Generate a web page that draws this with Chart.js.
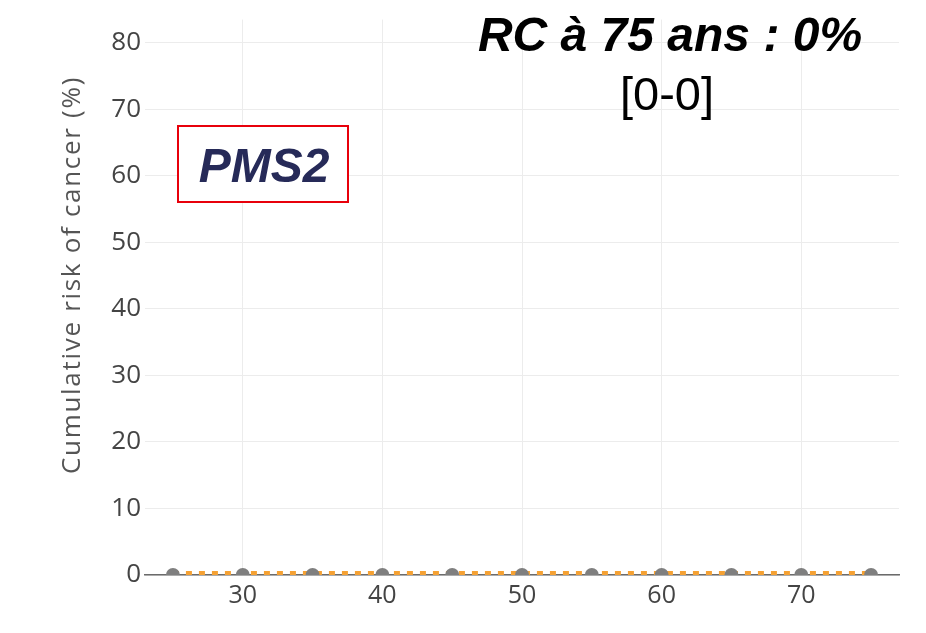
<!DOCTYPE html>
<html>
<head>
<meta charset="utf-8">
<script src="https://cdn.jsdelivr.net/npm/chart.js@4.4.1/dist/chart.umd.min.js"></script>
<style>
  html, body { margin: 0; padding: 0; background: #fff; }
  #wrap { width: 926px; height: 633px; position: relative; }
</style>
</head>
<body>
<div id="wrap"><canvas id="riskChart" width="926" height="633"></canvas></div>
<script>
// Data
const ages = [25, 30, 35, 40, 45, 50, 55, 60, 65, 70, 75];
const cumulativeRisk = [0, 0, 0, 0, 0, 0, 0, 0, 0, 0, 0];
const referenceRisk = [0, 0, 0, 0, 0, 0, 0, 0, 0, 0, 0];
const xTicks = [30, 40, 50, 60, 70];
const yTicks = [0, 10, 20, 30, 40, 50, 60, 70, 80];

const geneLabel = 'PMS2';
const riskTitle = 'RC à 75 ans : 0%';
const riskInterval = '[0-0]';
const yTitle = 'Cumulative risk of cancer (%)';

const toPoints = (xs, ys) => xs.map((x, i) => ({ x: x, y: ys[i] }));

// Draw the annotations and axis title
const annotations = {
    id: 'annotations',
    afterDraw(chart) {
        const ctx = chart.ctx;
        ctx.save();

        // y axis title
        ctx.translate(73, 275);
        ctx.rotate(-Math.PI / 2);
        ctx.fillStyle = '#555';
        ctx.font = '26px "Open Sans"';
        ctx.letterSpacing = '1.7px';
        ctx.textAlign = 'center';
        ctx.textBaseline = 'middle';
        ctx.fillText(yTitle, 0, 0);
        ctx.setTransform(1, 0, 0, 1, 0, 0);
        ctx.letterSpacing = '0px';

        // risk title
        ctx.fillStyle = '#000';
        ctx.textAlign = 'center';
        ctx.textBaseline = 'alphabetic';
        ctx.font = 'italic bold 48px "Liberation Sans"';
        ctx.fillText(riskTitle, 670, 51);
        ctx.font = '47px "Liberation Sans"';
        ctx.fillText(riskInterval, 667, 110);

        // gene box
        ctx.fillStyle = '#fff';
        ctx.fillRect(178, 126, 170, 76);
        ctx.strokeStyle = '#e8000b';
        ctx.lineWidth = 2;
        ctx.strokeRect(178, 126, 170, 76);
        ctx.fillStyle = '#262a58';
        ctx.font = 'italic bold 48px "Liberation Sans"';
        ctx.fillText(geneLabel, 264, 182);

        ctx.restore();
    }
};

new Chart(document.getElementById('riskChart'), {
    type: 'scatter',
    data: {
        datasets: [
            {
                label: 'Cumulative risk',
                data: toPoints(ages, cumulativeRisk),
                showLine: false,
                pointRadius: 7,
                pointBackgroundColor: '#7f7f7f',
                pointBorderWidth: 0,
                clip: 0,
                order: 1
            },
            {
                label: 'Reference',
                data: toPoints(ages, referenceRisk),
                showLine: true,
                borderColor: '#f5a133',
                borderWidth: 8,
                borderDash: [6, 7],
                pointRadius: 0,
                clip: 0,
                order: 2
            }
        ]
    },
    plugins: [annotations],
    options: {
        responsive: false,
        animation: false,
        layout: { padding: { top: 19, right: 27, left: 0, bottom: 0 } },
        plugins: {
            legend: { display: false },
            tooltip: { enabled: false }
        },
        scales: {
            x: {
                type: 'linear',
                min: 23,
                max: 77,
                z: 1,
                afterBuildTicks: scale => { scale.ticks = xTicks.map(v => ({ value: v })); },
                afterFit: scale => { scale.height = 58; },
                grid: { color: '#ececec', lineWidth: 1, drawTicks: false },
                border: { display: true, color: '#6b6b6b', width: 1.5 },
                ticks: {
                    color: '#444',
                    font: { family: 'Open Sans', size: 25 },
                    padding: 6
                }
            },
            y: {
                type: 'linear',
                min: 0,
                max: 83.45,
                afterBuildTicks: scale => { scale.ticks = yTicks.map(v => ({ value: v })); },
                afterFit: scale => { scale.width = 145; },
                grid: { color: '#ececec', lineWidth: 1, drawTicks: false },
                border: { display: false },
                ticks: {
                    color: '#444',
                    font: { family: 'Open Sans', size: 26 },
                    padding: 4
                }
            }
        }
    }
});
</script>
</body>
</html>
